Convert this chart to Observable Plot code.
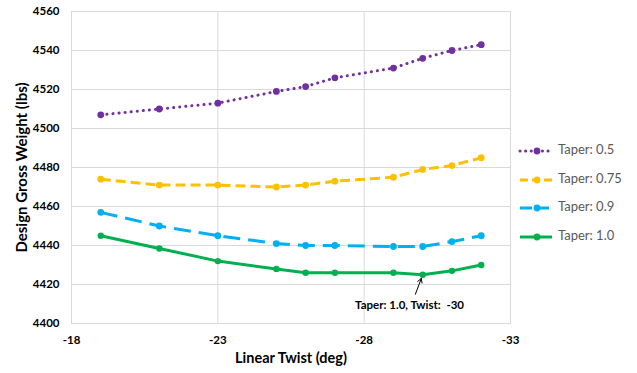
<!DOCTYPE html>
<html><head><meta charset="utf-8">
<script src="https://cdn.jsdelivr.net/npm/d3@7"></script>
<script src="https://cdn.jsdelivr.net/npm/@observablehq/plot@0.6"></script>
<style>
body{margin:0;background:#fff;}
#wrap{position:relative;width:637px;height:373px;font-family:Lato,"Open Sans",sans-serif;}
#legend{position:absolute;left:518px;top:140px;}
.item{position:absolute;left:0;height:20px;width:120px;}
.item svg{position:absolute;left:0;top:0;}
.item span{position:absolute;left:40px;top:1px;font-size:13px;color:#595959;white-space:nowrap;}
</style></head>
<body><div id="wrap"><div id="chart"></div><div id="legend"></div></div>
<script>
const twist = [-19, -21, -23, -25, -26, -27, -29, -30, -31, -32];
const taper05  = [4507, 4510, 4513, 4519, 4521.5, 4526, 4531, 4536, 4540, 4543];
const taper075 = [4474, 4471, 4471, 4470, 4471, 4473, 4475, 4479, 4481, 4485];
const taper09  = [4457, 4450, 4445, 4441, 4440, 4440, 4439.5, 4439.5, 4442, 4445];
const taper10  = [4445, 4438.5, 4432, 4428, 4426, 4426, 4426, 4425, 4427, 4430];
const seriesNames = ["Taper: 0.5", "Taper: 0.75", "Taper: 0.9", "Taper: 1.0"];
const xTicks = [-18, -23, -28, -33];
const yTicks = [4400, 4420, 4440, 4460, 4480, 4500, 4520, 4540, 4560];
const annotation = [{x: -30, y: 4425, x1: -29.75, y1: 4415, tx: -29.55, ty: 4409.5, label: "Taper: 1.0, Twist:  -30"}];

const styles = [
  {color: "#7030A0", dash: "0.1,6", width: 3, r: 3.4, cap: "round"},
  {color: "#FFC000", dash: "10,5", width: 3, r: 3.4, cap: "butt"},
  {color: "#00B0F0", dash: "17,8", width: 3, r: 3.4, cap: "butt"},
  {color: "#00B050", dash: null, width: 3, r: 3.2, cap: "butt"}
];
const allValues = [taper05, taper075, taper09, taper10];
const series = allValues.map((vals, i) => twist.map((t, j) => ({twist: t, w: vals[j], s: seriesNames[i]})));

const marks = [
  Plot.gridX(xTicks, {stroke: "#d9d9d9", strokeOpacity: 1}),
  Plot.gridY(yTicks, {stroke: "#d9d9d9", strokeOpacity: 1}),
  Plot.frame({stroke: "#d9d9d9"}),
  Plot.axisX(xTicks, {tickSize: 0, tickPadding: 12, fontSize: 11.5, fontWeight: "bold", fill: "#000",
    tickFormat: d => String(d),
    label: "Linear Twist (deg)", labelAnchor: "center", labelArrow: "none", labelOffset: 39}),
  Plot.axisY(yTicks, {tickSize: 0, tickPadding: 12, fontSize: 11.5, fontWeight: "bold", fill: "#000",
    tickFormat: d => String(d),
    label: "Design Gross Weight (lbs)", labelAnchor: "center", labelArrow: "none", labelOffset: 55})
];
series.forEach((d, i) => {
  const st = styles[i];
  marks.push(Plot.line(d, {x: "twist", y: "w", stroke: st.color, strokeWidth: st.width,
    strokeDasharray: st.dash, strokeLinecap: st.cap}));
  marks.push(Plot.dot(d, {x: "twist", y: "w", fill: st.color, r: st.r}));
});
marks.push(Plot.arrow(annotation, {x1: "x1", y1: "y1", x2: "x", y2: "y", stroke: "#000", strokeWidth: 1, headLength: 7, insetEnd: 4}));
marks.push(Plot.text(annotation, {x: "tx", y: "ty", text: "label", fontSize: 11.5, fontWeight: "bold", fill: "#000"}));

const chart = Plot.plot({
  width: 637, height: 373,
  marginLeft: 71, marginRight: 127, marginTop: 11, marginBottom: 50,
  style: {fontFamily: "Lato, 'Open Sans', sans-serif", fontSize: "13px", color: "#000", background: "#fff"},
  x: {domain: [-18, -33]},
  y: {domain: [4400, 4560]},
  marks
});
chart.querySelectorAll('[aria-label="x-axis label"] text').forEach(t => {
  t.setAttribute("font-weight", "bold"); t.style.fontSize = "14.5px";
});
chart.querySelectorAll('[aria-label="y-axis label"] text').forEach(t => {
  t.setAttribute("font-weight", "bold"); t.style.fontSize = "15px";
});
document.getElementById("chart").appendChild(chart);

const legend = document.getElementById("legend");
const tops = [0, 29, 57, 86];
seriesNames.forEach((name, i) => {
  const st = styles[i];
  const div = document.createElement("div");
  div.className = "item";
  div.style.top = tops[i] + "px";
  const dash = st.dash ? (i === 0 ? "0.1,5.5" : (i === 1 ? "8,4" : "12,5")) : "";
  div.innerHTML = `<svg width="36" height="20"><line x1="2" x2="34" y1="11" y2="11" stroke="${st.color}" stroke-width="3" ${dash ? `stroke-dasharray="${dash}"` : ""} stroke-linecap="${st.cap}"/><circle cx="19" cy="11" r="3.4" fill="${st.color}"/></svg><span>${name}</span>`;
  legend.appendChild(div);
});
</script></body></html>
